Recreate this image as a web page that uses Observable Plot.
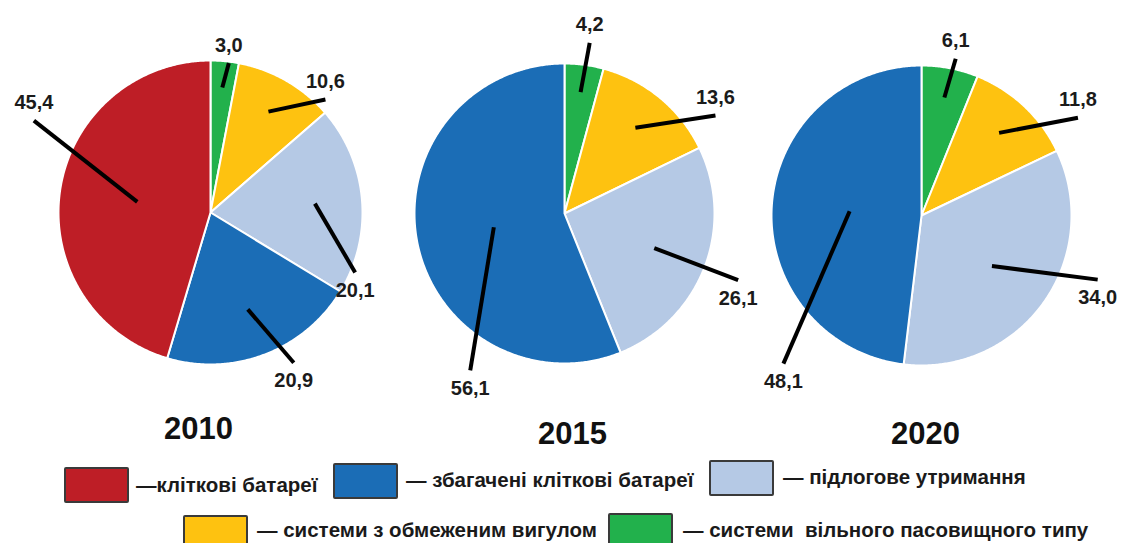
<!DOCTYPE html>
<html>
<head>
<meta charset="utf-8">
<script src="https://cdn.jsdelivr.net/npm/d3@7"></script>
<script src="https://cdn.jsdelivr.net/npm/@observablehq/plot@0.6"></script>
<style>
  html, body { margin: 0; padding: 0; background: #fff; }
  #page { width: 1123px; height: 543px; position: relative; overflow: hidden; font-family: "Liberation Sans", Arial, sans-serif; }
  #legend { position: relative; width: 1123px; height: 88px; }
  .box { position: absolute; width: 61px; height: 32px; border: 2px solid #3a3a3a; border-radius: 2px; box-sizing: content-box; }
  .lab { position: absolute; font-weight: bold; font-size: 20.5px; color: #1a1a1a; white-space: pre; line-height: 22px; }
</style>
</head>
<body>
<div id="page">
  <div id="chart"></div>
  <div id="legend"></div>
</div>
<script>
// ---- data ----
const categories = [
  "кліткові батареї",
  "збагачені кліткові батареї",
  "підлогове утримання",
  "системи з обмеженим вигулом",
  "системи вільного пасовищного типу"
];
const colors = ["#be1e26", "#1b6db6", "#b5c9e5", "#fec210", "#22b14c"];
const years = ["2010", "2015", "2020"];
// values in category order: [кліткові, збагачені, підлогове, обмежений вигул, вільний випас]
const values2010 = [45.4, 20.9, 20.1, 10.6, 3.0];
const values2015 = [0, 56.1, 26.1, 13.6, 4.2];
const values2020 = [0, 48.1, 34.0, 11.8, 6.1];
const seriesByYear = [values2010, values2015, values2020];
// legend rows (category indexes) and their texts
const legendRow1 = [0, 1, 2];
const legendRow2 = [3, 4];
const legendText = ["—кліткові батареї", "— збагачені кліткові батареї", "— підлогове утримання",
  "— системи з обмеженим вигулом", "— системи  вільного пасовищного типу"];

// ---- layout (not data) ----
const W = 1123, H = 455;
const pieOrder = [4, 3, 2, 1, 0]; // clockwise from 12 o'clock
const pieLayout = [{cx: 210, cy: 212, r: 152}, {cx: 564, cy: 213, r: 150}, {cx: 921, cy: 215, r: 150}];
// callout end: [angle in degrees clockwise from 12 o'clock, reach in radii], category order
const calloutLayout = [
  [[297.5, 1.31], [151, 1.13], [112.5, 1.03], [45.5, 1.06], [7, 0.99]],
  [null, [211, 1.22], [111, 1.24], [57, 1.2], [8.4, 1.15]],
  [null, [223, 1.35], [110, 1.25], [58, 1.23], [12.3, 1.07]]
];
const yearLabelShift = [{dx: -12, y: 429}, {dx: 8, y: 434}, {dx: 4, y: 434}];

const fmt = v => v.toFixed(1).replace(".", ",");

const slices = [];
const callouts = [];
const yearLabels = [];
years.forEach((yr, i) => {
  const vals = seriesByYear[i];
  const {cx, cy, r} = pieLayout[i];
  const entries = pieOrder.map(k => ({k, v: vals[k]})).filter(e => e.v > 0);
  const arcs = d3.pie().sort(null).value(e => e.v)(entries);
  arcs.forEach(a => {
    const key = yr + "-" + a.data.k;
    const cat = categories[a.data.k];
    const n = Math.max(2, Math.ceil((a.endAngle - a.startAngle) / (Math.PI / 360)));
    slices.push({key, cat, x: cx, y: cy});
    for (let j = 0; j <= n; j++) {
      const t = a.startAngle + (a.endAngle - a.startAngle) * j / n;
      slices.push({key, cat, x: cx + r * Math.sin(t), y: cy - r * Math.cos(t)});
    }
    const mid = (a.startAngle + a.endAngle) / 2;
    const share = a.data.v / 100;
    const rin = Math.max(0.48, 0.85 - 0.8 * share) * r;
    const [deg, reach] = calloutLayout[i][a.data.k];
    const t2 = deg * Math.PI / 180;
    const x2 = cx + reach * r * Math.sin(t2), y2 = cy - reach * r * Math.cos(t2);
    callouts.push({
      x1: cx + rin * Math.sin(mid), y1: cy - rin * Math.cos(mid),
      x2, y2, label: fmt(a.data.v), above: y2 < cy
    });
  });
  yearLabels.push({x: cx + yearLabelShift[i].dx, y: yearLabelShift[i].y, text: yr});
});

const chart = Plot.plot({
  width: W, height: H, margin: 0,
  style: {fontFamily: "'Liberation Sans', Arial, sans-serif", background: "#fff"},
  x: {domain: [0, W], range: [0, W], axis: null},
  y: {domain: [0, H], range: [0, H], axis: null},
  color: {domain: categories, range: colors},
  marks: [
    Plot.line(slices, {x: "x", y: "y", z: "key", fill: "cat", stroke: "white", strokeWidth: 2,
      strokeLinejoin: "round", curve: "linear-closed"}),
    Plot.link(callouts, {x1: "x1", y1: "y1", x2: "x2", y2: "y2", stroke: "#000", strokeWidth: 4}),
    Plot.text(callouts, {x: "x2", y: d => d.y2 + (d.above ? -18 : 18), text: "label",
      fontSize: 20, fontWeight: "bold", fill: "#1b1b1b"}),
    Plot.text(yearLabels, {x: "x", y: "y", text: "text", fontSize: 31, fontWeight: "bold", fill: "#111"})
  ]
});
document.getElementById("chart").appendChild(chart);

// ---- legend (HTML, below the SVG) ----
const legend = document.getElementById("legend");
const legendPos = [
  {box: 64, top: 12, text: 136, ty: 19},
  {box: 333, top: 8, text: 406, ty: 14},
  {box: 709, top: 5, text: 783, ty: 11},
  {box: 183, top: 60, text: 257, ty: 64},
  {box: 608, top: 58, text: 683, ty: 64}
];
[...legendRow1, ...legendRow2].forEach(k => {
  const p = legendPos[k];
  const b = document.createElement("div");
  b.className = "box";
  b.style.left = p.box + "px"; b.style.top = p.top + "px";
  b.style.background = colors[k];
  legend.appendChild(b);
  const t = document.createElement("div");
  t.className = "lab";
  t.textContent = legendText[k];
  t.style.left = p.text + "px"; t.style.top = p.ty + "px";
  legend.appendChild(t);
});
</script>
</body>
</html>
